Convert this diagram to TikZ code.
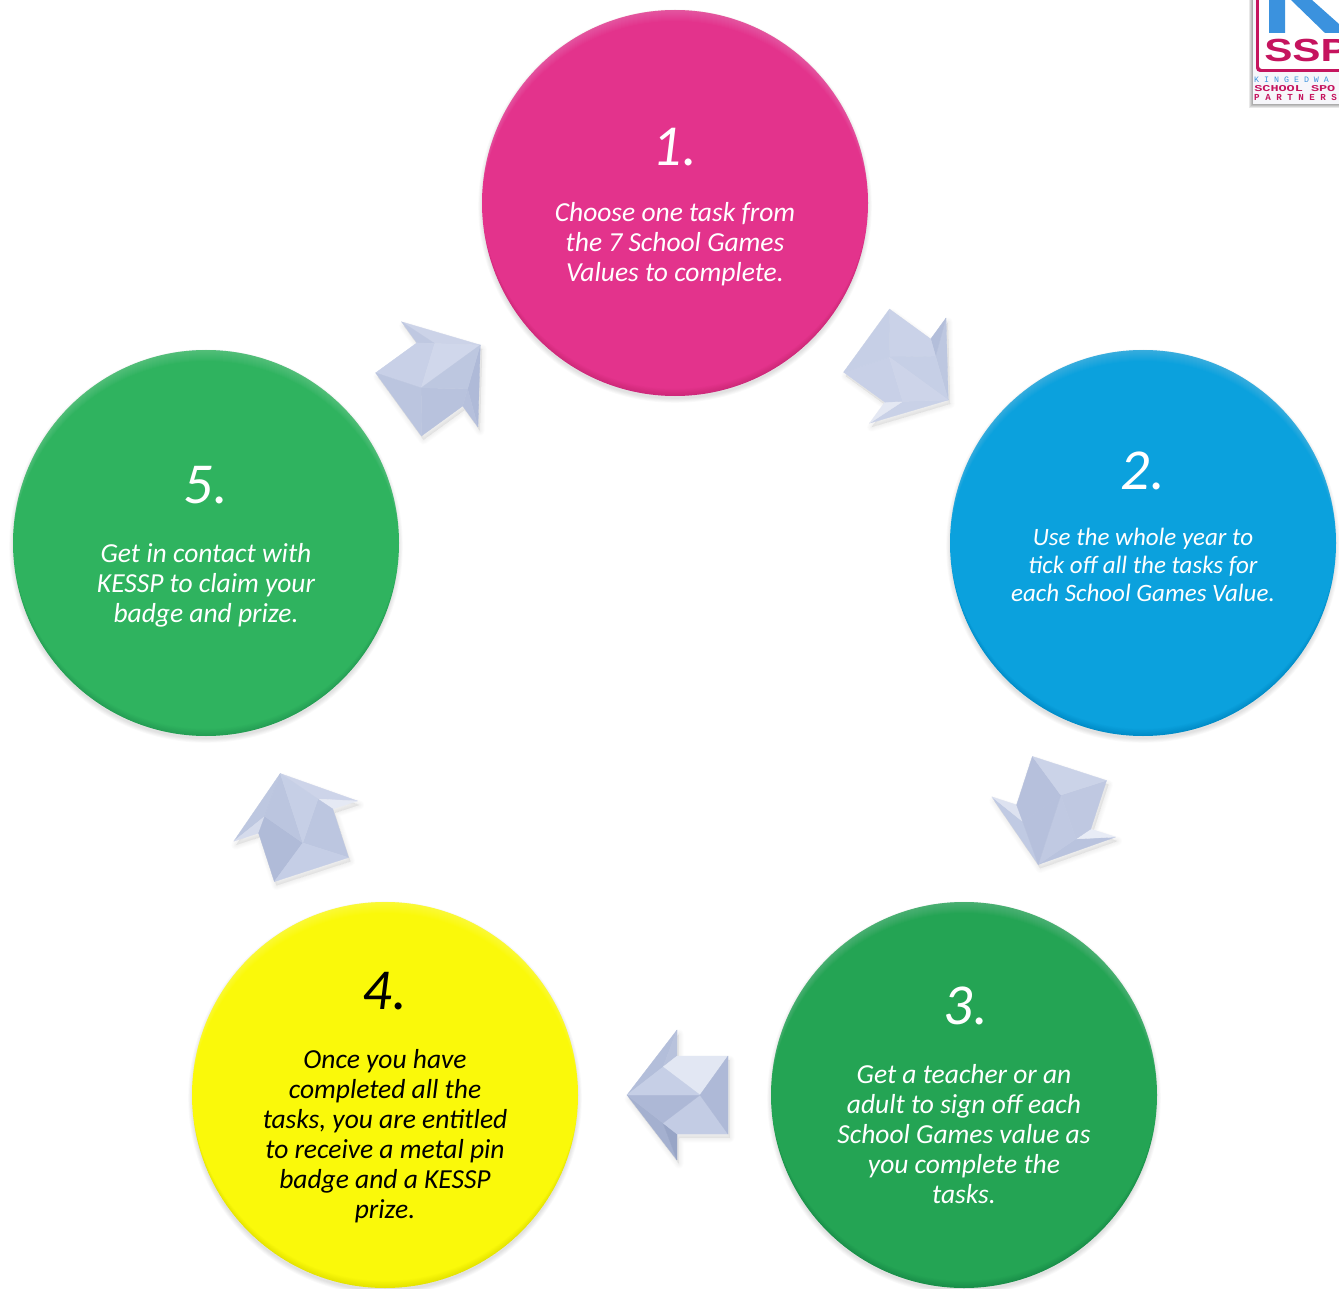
\documentclass[tikz,border=0pt]{standalone}
\usepackage{fontspec}
\setmainfont{Carlito}
\setmonofont{Liberation Mono}
\newfontfamily\logofont{Liberation Sans}
\definecolor{cpink}{HTML}{E3338C}
\definecolor{cblue}{HTML}{0BA1DD}
\definecolor{cgreenA}{HTML}{24A454}
\definecolor{cyel}{HTML}{FAF90A}
\definecolor{cgreenB}{HTML}{2FB35F}
\definecolor{logored}{HTML}{C5145E}
\definecolor{logoblue}{HTML}{3B92DE}
\definecolor{logopaper}{HTML}{F6F6FA}
\tikzset{
  steplabel/.style={align=center,font=\fontsize{27.5}{30}\selectfont\itshape,inner sep=0pt},
  numlabel/.style={font=\fontsize{58}{60}\selectfont\itshape,inner sep=0pt},
  whitetext/.style={text=white},
  blacktext/.style={text=black},
  logotext/.style={inner sep=0pt,anchor=west},
  facet/.style={draw=#1,fill=#1,line width=.3pt,line join=round}
}
% #1 name, #2 x, #3 y, #4 colour
\newcommand{\ballshape}[4]{%
  \foreach \k in {1,...,6}{\fill[black,opacity=.02] (#2,#3+3) circle ({192+\k*.8});}
  \node[circle,minimum size=386pt,inner sep=0pt,fill=#4] (#1) at (#2,#3) {};
  \begin{scope}
    \clip (#2,#3) circle (193);
    \foreach \k in {1,...,12}{
      \fill[white,opacity=.018,even odd rule] (#2,#3) circle (194) (#2,#3+\k*1.0) circle (194);
      \fill[black,opacity=.009,even odd rule] (#2,#3) circle (194) (#2,#3-\k*.7) circle (194);
    }
  \end{scope}
}
% #1 name, #2 x, #3 y, #4 direction, clockwise on screen from pointing right
\newcommand{\fatarrow}[4]{%
  \begin{scope}[shift={(#2+2,#3+4)},rotate=-#4]
    \foreach \w in {1,3,5,7,9}{
      \draw[black,opacity=.012,line width=\w pt,line join=round,fill=black,fill opacity=.012]
        (51,0)--(1,-65)--(1,-39)--(-50,-39)--(-50,39)--(1,39)--(1,65)--cycle;}
  \end{scope}
  \begin{scope}[shift={(#2,#3)},rotate=-#4]
    \node[inner sep=0pt,minimum size=0pt] (#1) at (0,0) {};
    \path[facet=cA] (51,0)--(1,-65)--(15,-28)--cycle;
    \path[facet=cH] (1,-65)--(1,-39)--(15,-28)--cycle;
    \path[facet=cB] (51,0)--(1,65)--(15,28)--cycle;
    \path[facet=cI] (1,65)--(1,39)--(15,28)--cycle;
    \path[facet=cC] (1,-39)--(-50,-39)--(-22,0)--(15,-28)--cycle;
    \path[facet=cD] (1,39)--(-50,39)--(-22,0)--(15,28)--cycle;
    \path[facet=cE] (-50,-39)--(-50,39)--(-22,0)--cycle;
    \path[facet=cF] (51,0)--(15,-28)--(-22,0)--cycle;
    \path[facet=cG] (51,0)--(15,28)--(-22,0)--cycle;
  \end{scope}
}
% big -y, sliver -y, big +y, sliver +y, tail -y, tail +y, end, centre -y, centre +y
\newcommand{\arrowcols}[9]{%
  \definecolor{cA}{HTML}{#1}\definecolor{cH}{HTML}{#2}\definecolor{cB}{HTML}{#3}%
  \definecolor{cI}{HTML}{#4}\definecolor{cC}{HTML}{#5}\definecolor{cD}{HTML}{#6}%
  \definecolor{cE}{HTML}{#7}\definecolor{cF}{HTML}{#8}\definecolor{cG}{HTML}{#9}}
\begin{document}
\begin{tikzpicture}[x=1pt,y=-1pt]
\useasboundingbox (0,0) rectangle (1339,1289);
\fill[white] (0,0) rectangle (1339,1289);
% logo
\begin{scope}
  \clip (0,0) rectangle (1339,1289);
  \foreach \k in {1,2,3,4}{\fill[black,opacity=.09] (1253-\k,0) rectangle (1345,104+\k);}
  \fill[logopaper] (1253,0) rectangle (1345,104);
  \fill[logored,rounded corners=4pt] (1256,-8) rectangle (1345,72);
  \fill[white,rounded corners=3pt] (1259,-8) rectangle (1345,69);
  \fill[logoblue] (1269,0) rectangle (1285,33) (1291,0)--(1325,33)--(1339,33)--(1339,24)--(1312,0)--cycle;
  \node[logotext,xscale=1.32,transform shape,font=\logofont\fontsize{32}{32}\selectfont\bfseries,text=logored] (logoA) at (1264,50) {SSP};
  \node[logotext,font=\fontsize{8.3}{8}\selectfont\ttfamily,text=logoblue] (logoB) at (1254,80) {K I N G   E D W A};
  \node[logotext,xscale=1.5,transform shape,font=\fontsize{9}{8}\selectfont\ttfamily\bfseries,text=logored] (logoC) at (1254,89) {SCHOOL SPO};
  \node[logotext,font=\fontsize{9.2}{8}\selectfont\ttfamily\bfseries,text=logored] (logoD) at (1254,97) {P A R T N E R S};
\end{scope}
\ballshape{b1}{675}{203}{cpink}
\ballshape{b2}{1143}{543}{cblue}
\ballshape{b3}{964}{1095}{cgreenA}
\ballshape{b4}{385}{1095}{cyel}
\ballshape{b5}{206}{543}{cgreenB}
\arrowcols{A4B0CF}{98A5C6}{B3BEDA}{B8C2DC}{C3CCE4}{E2E7F3}{AEB9D7}{ADB8D6}{C6CFE6}
\fatarrow{a34}{678}{1095}{180}
\arrowcols{BDC7E0}{B3BEDA}{C9D1E7}{E4E8F3}{CAD2E8}{C8D0E7}{C6CFE6}{C6CFE6}{CDD4E9}
\fatarrow{a12}{907}{370}{36}
\arrowcols{B9C3DE}{E8ECF6}{C0CAE3}{DDE2F0}{BFC8E1}{B6C0DC}{CBD3E8}{C0C9E2}{B6C0DC}
\fatarrow{a23}{1054}{816}{108}
\arrowcols{BDC7E0}{D5DBEC}{CDD4E9}{E5E9F4}{B0BBD8}{BCC6E0}{C5CEE6}{BBC5DF}{C6CFE6}
\fatarrow{a45}{296}{822}{-108}
\arrowcols{CCD3E8}{BFC8E1}{AFBAD8}{B6C0DC}{C8D0E7}{B8C2DD}{BBC5DF}{D0D7EB}{BDC7E0}
\fatarrow{a51}{439}{375}{-36}
\node[numlabel,whitetext] (n1) at (675,147) {1.};
\node[steplabel,whitetext] (t1) at (675,244) {Choose one task from\\the 7 School Games\\Values to complete.};
\node[numlabel,whitetext] (n2) at (1143,471) {2.};
\node[steplabel,whitetext,font=\fontsize{25}{28}\selectfont\itshape] (t2) at (1143,565) {Use the whole year to\\tick off all the tasks for\\each School Games Value.};
\node[numlabel,whitetext] (n3) at (966,1006) {3.};
\node[steplabel,whitetext] (t3) at (964,1134) {Get a teacher or an\\adult to sign off each\\School Games value as\\you complete the\\tasks.};
\node[numlabel,blacktext] (n4) at (385,991) {4.};
\node[steplabel,blacktext] (t4) at (385,1136) {Once you have\\completed all the\\tasks, you are entitled\\to receive a metal pin\\badge and a KESSP\\prize.};
\node[numlabel,whitetext] (n5) at (206,485) {5.};
\node[steplabel,whitetext] (t5) at (206,585) {Get in contact with\\KESSP to claim your\\badge and prize.};
\end{tikzpicture}
\end{document}
